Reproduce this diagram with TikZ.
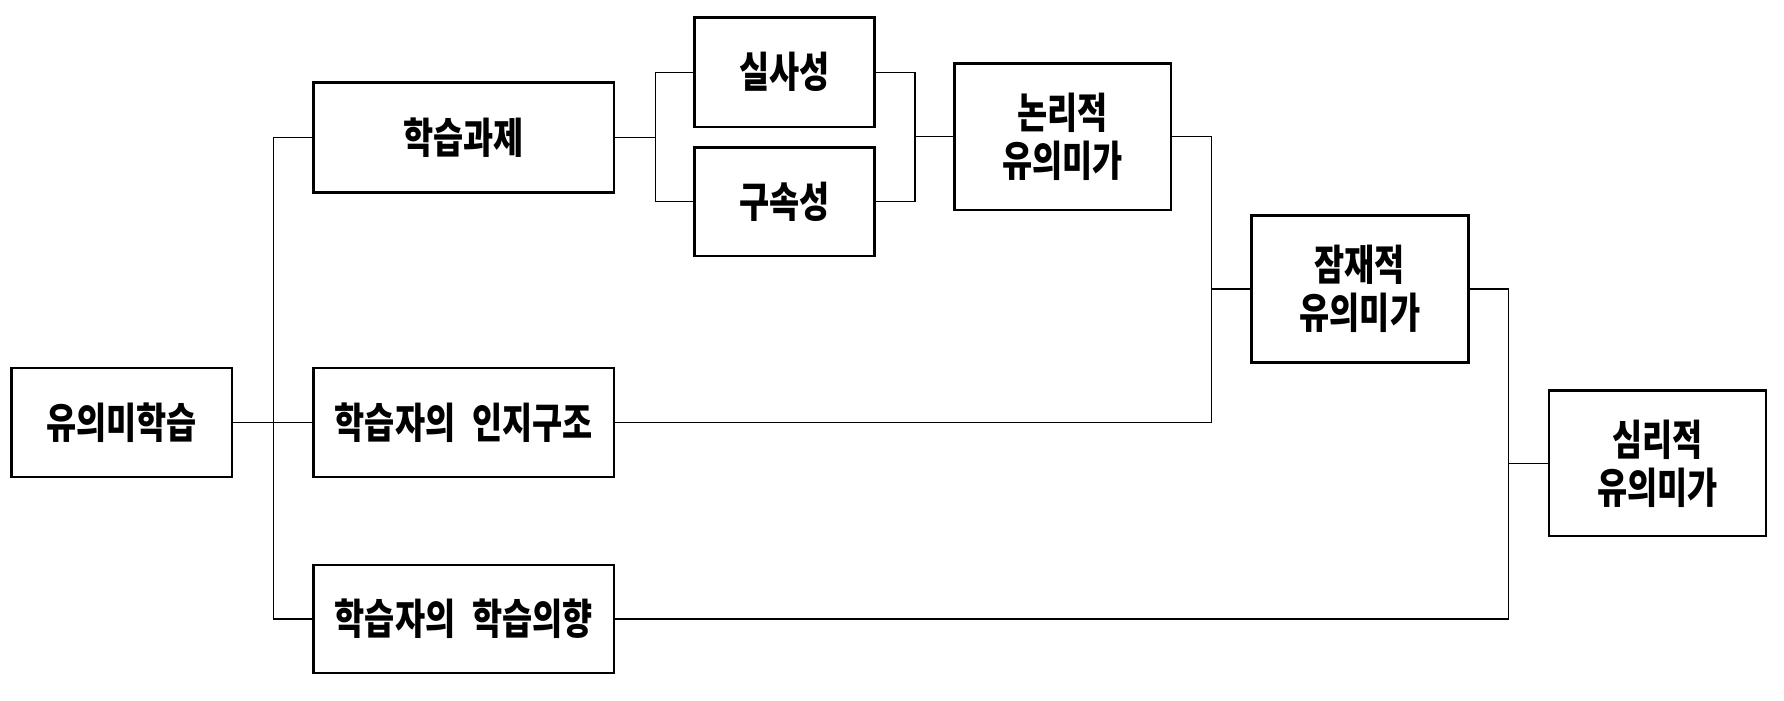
\documentclass[tikz,border=0pt]{standalone}
\usepackage{fontspec}
\newfontfamily\kr[FakeStretch=0.78]{Noto Sans CJK KR}
\begin{document}
\begin{tikzpicture}[x=0.5pt,y=-0.5pt,
  box/.style={draw=black,line width=1.25pt,rectangle,inner sep=0pt,
    font=\kr\bfseries\fontsize{21pt}{24pt}\selectfont,align=center},
  wire/.style={draw=black,line width=0.6pt}]
\useasboundingbox (0,0) rectangle (1784,701);
\node[box,minimum width=110.25pt,minimum height=54.65pt] (A) at (121.75,422.4) {유의미학습};
\node[box,minimum width=150.4pt,minimum height=54.8pt] (B) at (463.8,137.5) {학습과제};
\node[box,minimum width=150.4pt,minimum height=54.65pt] (C) at (463.8,422.4) {학습자의\hspace{0.4em}인지구조};
\node[box,minimum width=150.4pt,minimum height=54pt] (D) at (463.8,619) {학습자의\hspace{0.4em}학습의향};
\node[box,minimum width=89.85pt,minimum height=54.65pt] (E) at (784.4,72.3) {실사성};
\node[box,minimum width=89.85pt,minimum height=54.15pt] (F) at (784.4,201.8) {구속성};
\node[box,minimum width=108.2pt,minimum height=73.35pt] (G) at (1062.8,136.7) {논리적\\유의미가};
\node[box,minimum width=108.5pt,minimum height=73.3pt] (H) at (1359.9,289) {잠재적\\유의미가};
\node[box,minimum width=108.5pt,minimum height=72.65pt] (I) at (1657.3,463.3) {심리적\\유의미가};
\coordinate (t0) at (273.8,137.5);
\coordinate (j1) at (655.5,137.5);
\coordinate (j2) at (915,136.7);
\coordinate (j3) at (1211.2,289);
\coordinate (j4) at (1508.6,463.3);
\draw[wire] (A.east) -- (C.west);
\draw[wire] (B.west) -- (t0) |- (D.west);
\draw[wire] (B.east) -- (j1);
\draw[wire] (E.west) -| (j1) |- (F.west);
\draw[wire] (E.east) -| (j2) |- (F.east);
\draw[wire] (j2) -- (G.west);
\draw[wire] (G.east) -| (j3) |- (C.east);
\draw[wire] (j3) -- (H.west);
\draw[wire] (H.east) -| (j4) |- (D.east);
\draw[wire] (j4) -- (I.west);
\end{tikzpicture}
\end{document}
